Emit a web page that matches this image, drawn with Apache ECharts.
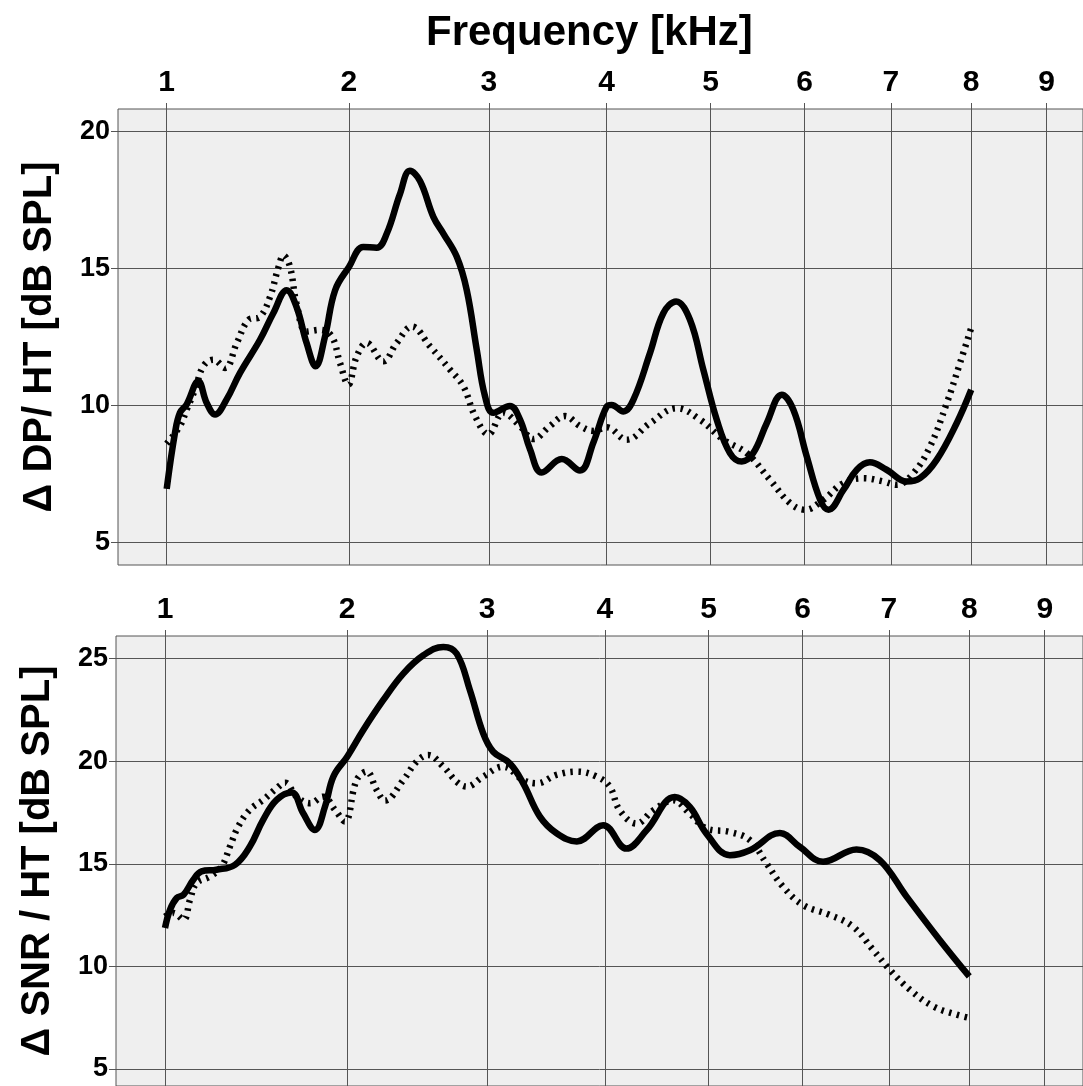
<!DOCTYPE html>
<html style="height: 100%;">
  <head>
    <meta charset="utf-8" />
  </head>
  <body style="height: 100%; margin: 0; background: #fff;">
    <div id="container" style="width: 1083px; height: 1086px;"></div>
    <script src="https://cdn.jsdelivr.net/npm/echarts@6/dist/echarts.min.js"></script>
    <script type="text/javascript">
      // frequency axis ticks (kHz), drawn on a square-root scale
      var freqTicks = [1, 2, 3, 4, 5, 6, 7, 8, 9];
      var dpTicks = [5, 10, 15, 20];
      var snrTicks = [5, 10, 15, 20, 25];

      // top panel: delta DP / HT, solid curve
      var dpSolidFreq = [1.0, 1.038, 1.061, 1.093, 1.149, 1.19, 1.232, 1.291, 1.361, 1.469, 1.543, 1.62, 1.677, 1.737, 1.792, 1.849, 1.912, 2.0, 2.093, 2.182, 2.25, 2.341, 2.411, 2.483, 2.58, 2.654, 2.754, 2.829, 2.906, 2.97, 3.036, 3.168, 3.25, 3.333, 3.431, 3.602, 3.761, 3.88, 4.0, 4.045, 4.153, 4.247, 4.403, 4.531, 4.656, 4.793, 4.927, 5.063, 5.199, 5.322, 5.443, 5.587, 5.75, 5.877, 6.025, 6.176, 6.27, 6.443, 6.597, 6.75, 6.949, 7.191, 7.355, 7.562, 7.814, 8.0];
      var dpSolidVal = [6.95, 9.0, 9.73, 10.04, 10.88, 10.09, 9.67, 10.22, 11.19, 12.4, 13.37, 14.21, 13.6, 12.28, 11.43, 12.52, 14.21, 15.06, 15.79, 15.76, 16.27, 17.72, 18.57, 18.2, 16.88, 16.27, 15.42, 14.21, 12.03, 10.34, 9.73, 9.98, 9.49, 8.4, 7.55, 8.04, 7.62, 8.65, 9.96, 10.02, 9.78, 10.21, 11.91, 13.37, 13.8, 13.13, 11.3, 9.48, 8.26, 7.95, 8.26, 9.35, 10.39, 9.84, 8.14, 6.55, 6.19, 6.92, 7.65, 7.92, 7.65, 7.22, 7.34, 8.01, 9.35, 10.57];

      // top panel: dotted curve
      var dpDotFreq = [1.0, 1.061, 1.093, 1.133, 1.173, 1.223, 1.283, 1.344, 1.406, 1.469, 1.525, 1.573, 1.601, 1.639, 1.677, 1.737, 1.818, 1.891, 1.943, 1.996, 2.05, 2.116, 2.227, 2.318, 2.425, 2.555, 2.702, 2.803, 2.893, 2.997, 3.116, 3.25, 3.361, 3.501, 3.63, 3.761, 3.88, 4.0, 4.184, 4.403, 4.661, 4.893, 5.131, 5.374, 5.623, 5.841, 6.006, 6.21, 6.44, 6.674, 6.912, 7.071, 7.274, 7.48, 7.69, 7.857, 8.0];
      var dpDotVal = [8.6, 9.25, 9.85, 10.58, 11.43, 11.67, 11.37, 12.28, 13.12, 13.24, 13.97, 15.06, 15.48, 15.06, 13.73, 12.7, 12.76, 12.52, 11.55, 10.76, 11.79, 12.28, 11.61, 12.28, 12.88, 12.16, 11.31, 10.7, 9.61, 8.95, 9.73, 9.25, 8.77, 9.25, 9.61, 9.25, 9.07, 9.2, 8.75, 9.35, 9.9, 9.48, 8.75, 8.26, 7.28, 6.43, 6.19, 6.55, 7.16, 7.34, 7.22, 7.1, 7.53, 8.5, 10.09, 11.55, 12.83];

      // bottom panel: delta SNR / HT, solid curve
      var snrSolidFreq = [1.0, 1.023, 1.054, 1.086, 1.133, 1.173, 1.248, 1.343, 1.423, 1.496, 1.572, 1.659, 1.727, 1.798, 1.86, 1.912, 2.0, 2.105, 2.238, 2.377, 2.52, 2.666, 2.766, 2.867, 2.97, 3.049, 3.183, 3.292, 3.431, 3.573, 3.749, 3.985, 4.198, 4.388, 4.661, 4.81, 4.977, 5.217, 5.428, 5.75, 5.968, 6.23, 6.615, 6.89, 7.214, 7.624, 8.0];
      var snrSolidVal = [11.87, 12.76, 13.33, 13.49, 14.22, 14.63, 14.71, 14.95, 15.84, 17.14, 18.11, 18.47, 17.46, 16.65, 17.79, 19.25, 20.22, 21.52, 22.97, 24.27, 25.16, 25.57, 25.24, 23.46, 21.35, 20.46, 19.89, 18.92, 17.3, 16.49, 16.09, 16.88, 15.74, 16.63, 18.25, 17.77, 16.47, 15.42, 15.66, 16.5, 15.83, 15.1, 15.7, 15.18, 13.4, 11.29, 9.51];

      // bottom panel: dotted curve
      var snrDotFreq = [1.0, 1.038, 1.086, 1.117, 1.149, 1.215, 1.274, 1.317, 1.361, 1.423, 1.496, 1.572, 1.62, 1.688, 1.768, 1.849, 1.922, 1.985, 2.061, 2.127, 2.194, 2.25, 2.377, 2.472, 2.555, 2.666, 2.766, 2.842, 2.97, 3.129, 3.292, 3.403, 3.573, 3.749, 3.925, 4.044, 4.137, 4.293, 4.452, 4.645, 4.81, 4.977, 5.217, 5.428, 5.604, 5.785, 6.006, 6.306, 6.574, 6.81, 7.01, 7.253, 7.54, 7.834, 8.0];
      var snrDotVal = [12.42, 12.6, 12.28, 13.25, 14.06, 14.38, 14.87, 15.84, 16.82, 17.63, 18.11, 18.68, 18.95, 18.27, 17.95, 18.27, 17.63, 17.06, 19.08, 19.49, 18.6, 18.08, 19.08, 19.98, 20.3, 19.73, 19.0, 18.76, 19.25, 19.73, 19.08, 18.92, 19.33, 19.49, 19.25, 18.76, 17.6, 16.96, 17.6, 18.09, 17.44, 16.72, 16.55, 16.15, 15.02, 13.88, 12.99, 12.51, 11.94, 10.81, 9.84, 8.87, 8.06, 7.65, 7.49];

      var font = "Liberation Sans";
      var gridColor = "#555";

      function pairs(freq, val) {
        return freq.map(function (f, i) {
          return [Math.sqrt(f), val[i]];
        });
      }

      function xAxisFor(gridIndex, min, max) {
        var vals = freqTicks.map(function (f) { return Math.sqrt(f); });
        return {
          type: "value",
          gridIndex: gridIndex,
          position: "top",
          min: min,
          max: max,
          axisLine: { show: false },
          axisTick: { show: true, customValues: vals, length: 6, lineStyle: { color: gridColor } },
          splitLine: { show: true, lineStyle: { color: gridColor, width: 1 } },
          axisLabel: {
            customValues: vals,
            margin: 11,
            color: "#000",
            fontFamily: font,
            fontWeight: "bold",
            fontSize: 30,
            formatter: function (v) { return Math.round(v * v); },
          },
        };
      }

      function yAxisFor(gridIndex, min, max, ticks, name) {
        return {
          type: "value",
          gridIndex: gridIndex,
          min: min,
          max: max,
          name: name,
          nameLocation: "middle",
          nameRotate: 90,
          nameGap: 58,
          nameTextStyle: { color: "#000", fontFamily: font, fontWeight: "bold", fontSize: 40 },
          axisLine: { show: false },
          axisTick: { show: true, customValues: ticks, length: 7, lineStyle: { color: gridColor } },
          splitLine: { show: true, lineStyle: { color: gridColor, width: 1 } },
          axisLabel: {
            customValues: ticks,
            margin: 8,
            color: "#000",
            fontFamily: font,
            fontWeight: "bold",
            fontSize: 27,
          },
        };
      }

      function solid(xi, data) {
        return {
          type: "line", xAxisIndex: xi, yAxisIndex: xi, data: data,
          smooth: 0.4, symbol: "none",
          lineStyle: { color: "#000", width: 6.5 },
        };
      }
      function dotted(xi, data) {
        return {
          type: "line", xAxisIndex: xi, yAxisIndex: xi, data: data,
          smooth: 0.4, symbol: "none",
          lineStyle: { color: "#000", width: 6.5, type: [2.5, 5.5] },
        };
      }

      var myChart = echarts.init(document.getElementById("container"), null, { renderer: "canvas" });
      var option = {
        animation: false,
        backgroundColor: "#fff",
        title: {
          text: "Frequency [kHz]",
          left: 421,
          top: 7,
          textStyle: { color: "#000", fontFamily: font, fontWeight: "bold", fontSize: 42 },
        },
        grid: [
          { left: 118, top: 109, right: 0, height: 456, show: true, backgroundColor: "#efefef", borderColor: gridColor, borderWidth: 1 },
          { left: 116, top: 636, right: 0, bottom: 0, show: true, backgroundColor: "#efefef", borderColor: gridColor, borderWidth: 1 },
        ],
        xAxis: [xAxisFor(0, 0.8893, 3.0825), xAxisFor(1, 0.8886, 3.087)],
        yAxis: [
          yAxisFor(0, 4.17, 20.83, dpTicks, "\u0394 DP/ HT [dB SPL]"),
          yAxisFor(1, 4.17, 26.1, snrTicks, "\u0394 SNR / HT [dB SPL]"),
        ],
        series: [
          solid(0, pairs(dpSolidFreq, dpSolidVal)),
          dotted(0, pairs(dpDotFreq, dpDotVal)),
          solid(1, pairs(snrSolidFreq, snrSolidVal)),
          dotted(1, pairs(snrDotFreq, snrDotVal)),
        ],
      };
      myChart.setOption(option);
    </script>
  </body>
</html>
